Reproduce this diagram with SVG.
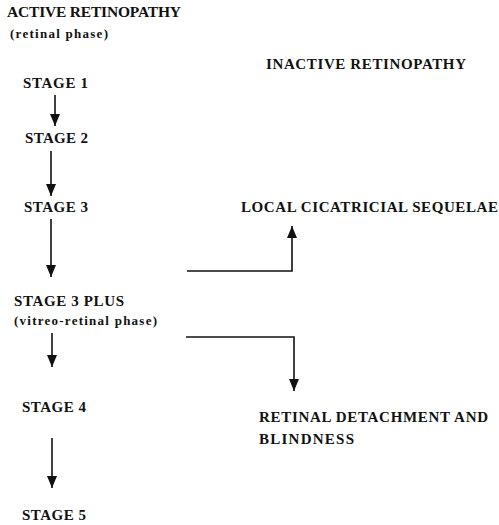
<svg xmlns="http://www.w3.org/2000/svg" width="499" height="525" viewBox="0 0 499 525">
<style>
  text { font-family: "Liberation Serif", "DejaVu Serif", "Times New Roman", serif; font-weight: bold; fill: #111; }
  .t { font-size: 15px; }
  .s { font-size: 13px; }
  .c { stroke: #111; stroke-width: 1.6; fill: none; }
</style>
<defs>
  <marker id="ah" markerUnits="userSpaceOnUse" markerWidth="12" markerHeight="10" refX="12" refY="5" orient="auto">
    <path d="M0,0 L12,5 L0,10 z" fill="#111"/>
  </marker>
</defs>
<rect width="499" height="525" fill="#fff"/>
<g id="active">
  <text class="t" x="7" y="17" textLength="174" lengthAdjust="spacing" style="font-size:15.5px">ACTIVE RETINOPATHY</text>
  <text class="s" x="10" y="38" textLength="98" lengthAdjust="spacing">(retinal phase)</text>
</g>
<g id="inactive">
  <text class="t" x="266" y="69" textLength="200" lengthAdjust="spacing">INACTIVE RETINOPATHY</text>
</g>
<g id="stage1"><text class="t" x="23" y="88" textLength="65" lengthAdjust="spacing">STAGE 1</text></g>
<g id="stage2"><text class="t" x="25" y="143" textLength="63" lengthAdjust="spacing">STAGE 2</text></g>
<g id="stage3"><text class="t" x="24" y="212" textLength="64" lengthAdjust="spacing">STAGE 3</text></g>
<g id="local"><text class="t" x="241" y="212" textLength="257" lengthAdjust="spacing">LOCAL CICATRICIAL SEQUELAE</text></g>
<g id="stage3plus">
  <text class="t" x="14" y="306" textLength="110" lengthAdjust="spacing">STAGE 3 PLUS</text>
  <text class="s" x="14" y="325" textLength="143" lengthAdjust="spacing">(vitreo-retinal phase)</text>
</g>
<g id="stage4"><text class="t" x="22" y="412" textLength="64" lengthAdjust="spacing">STAGE 4</text></g>
<g id="detachment">
  <text class="t" x="259" y="422" textLength="229" lengthAdjust="spacing">RETINAL DETACHMENT AND</text>
  <text class="t" x="259" y="444" textLength="95" lengthAdjust="spacing">BLINDNESS</text>
</g>
<g id="stage5"><text class="t" x="22" y="520" textLength="64" lengthAdjust="spacing">STAGE 5</text></g>
<g id="connectors">
  <line class="c" x1="55" y1="95" x2="55" y2="126" marker-end="url(#ah)"/>
  <line class="c" x1="51" y1="151" x2="51" y2="196" marker-end="url(#ah)"/>
  <line class="c" x1="51" y1="219" x2="51" y2="277" marker-end="url(#ah)"/>
  <line class="c" x1="52" y1="333" x2="52" y2="367" marker-end="url(#ah)"/>
  <line class="c" x1="52" y1="438" x2="52" y2="488" marker-end="url(#ah)"/>
  <polyline class="c" points="187,271 292,271 292,226" marker-end="url(#ah)"/>
  <polyline class="c" points="186,337 294,337 294,391" marker-end="url(#ah)"/>
</g>
</svg>
